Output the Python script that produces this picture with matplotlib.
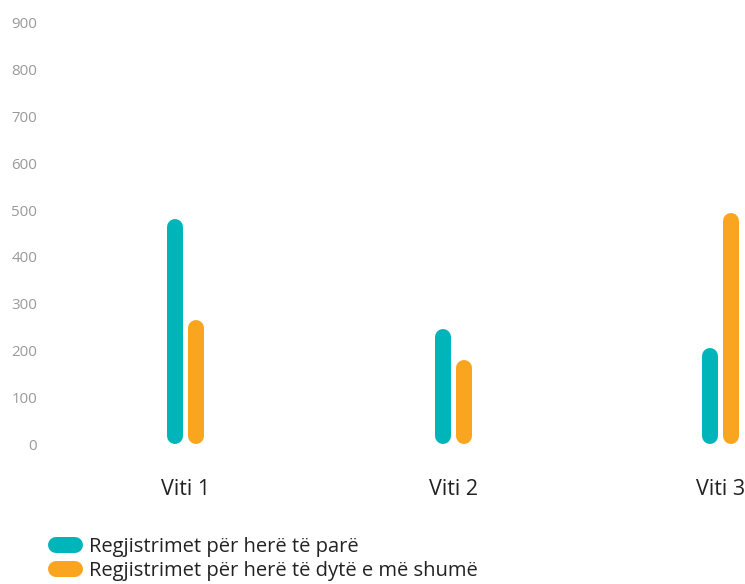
import numpy as np
import matplotlib
matplotlib.use('Agg')
import matplotlib.pyplot as plt
from matplotlib.lines import Line2D

plt.rcParams['font.family'] = ['Open Sans', 'DejaVu Sans']

categories = ['Viti 1', 'Viti 2', 'Viti 3']
first_time = [480, 246, 206]
repeat = [265, 180, 494]
series_names = ['Regjistrimet për herë të parë',
                'Regjistrimet për herë të dytë e më shumë']
colors = ['#00b5ba', '#f9a51f']
yticks = [0, 100, 200, 300, 400, 500, 600, 700, 800, 900]

W, H, dpi = 745, 584, 100
fig = plt.figure(figsize=(W / dpi, H / dpi), dpi=dpi)

# axes placed in pixels: x=0 at 186px, 267.5px per category; y=0 at 444px, y=900 at 23px
left_px, bottom_px, top_px = 51.25, 444, 23
ax = fig.add_axes((left_px / W, (H - bottom_px) / H, (W - left_px) / W, (bottom_px - top_px) / H))
ax.set_xlim(-0.5, (W - 186) / 267.5)
ax.set_ylim(0, 900)

bar_px = 16
lw = bar_px * 72 / dpi
cap = (bar_px / 2) / ((bottom_px - top_px) / 900)   # round cap length in data units
offset = 10.5 / 267.5

x = np.arange(len(categories))
for vals, col, sgn in [(first_time, colors[0], -1), (repeat, colors[1], 1)]:
    for xi, v in zip(x, vals):
        ax.plot([xi + sgn * offset] * 2, [cap, v - cap], color=col, lw=lw,
                solid_capstyle='round', clip_on=False)

for s in ax.spines.values():
    s.set_visible(False)
ax.set_yticks(yticks)
ax.set_yticklabels([str(t) for t in yticks])
ax.set_xticks(x)
ax.set_xticklabels(categories)
ax.tick_params(axis='y', length=0, pad=10, labelsize=10.8, labelcolor='#999999')
ax.tick_params(axis='x', length=0, pad=25, labelsize=15.5, labelcolor='#222222')

handles = [Line2D([0], [0], color=c, lw=lw, solid_capstyle='round') for c in colors]
fig.legend(handles, series_names, loc='upper left', bbox_to_anchor=(56 / W, (H - 537) / H),
           frameon=False, fontsize=14.5, handlelength=0.95, handletextpad=0.68,
           labelspacing=0.22, borderpad=0, borderaxespad=0, labelcolor='#222222')

fig.savefig('out.png', dpi=dpi)
